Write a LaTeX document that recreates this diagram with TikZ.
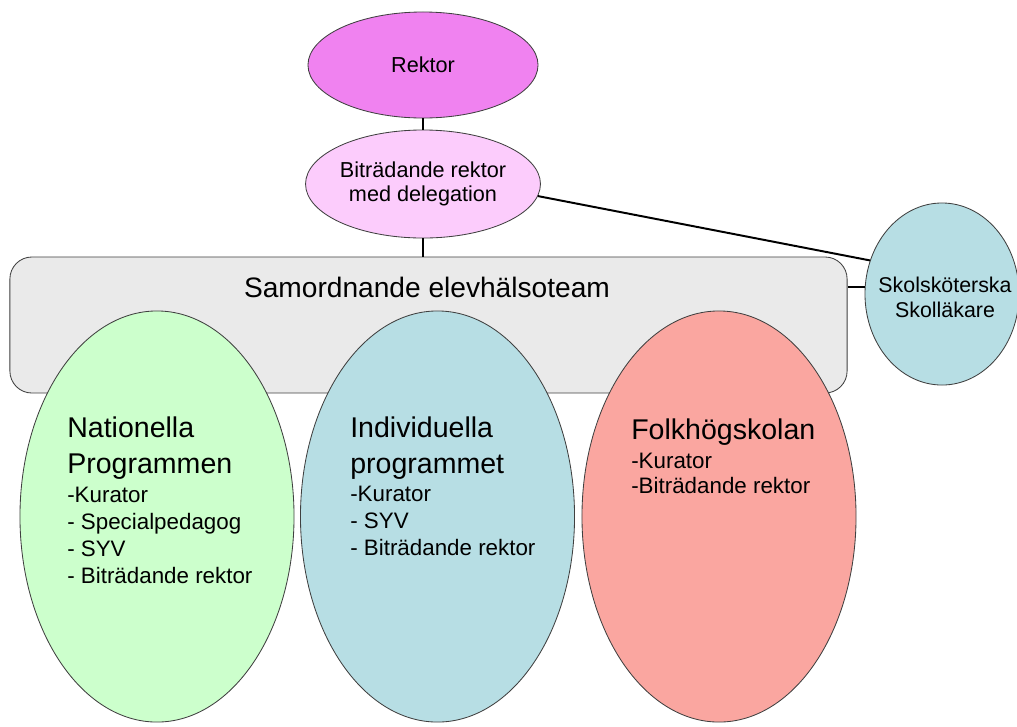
\documentclass[tikz,border=0pt]{standalone}
\usepackage{fontspec}
\setmainfont{Liberation Sans}
\usetikzlibrary{shapes.geometric}

\definecolor{rektorpink}{RGB}{240,130,240}
\definecolor{bitrpink}{RGB}{252,204,252}
\definecolor{teamgray}{RGB}{234,234,234}
\definecolor{natgreen}{RGB}{204,255,204}
\definecolor{indblue}{RGB}{183,222,228}
\definecolor{folkred}{RGB}{250,166,160}

\begin{document}
\begin{tikzpicture}[x=0.025cm,y=-0.025cm,
    oval/.style={ellipse,draw=black!75,line width=0.6pt,inner sep=0pt},
    bigoval/.style={oval,minimum width=6.85cm,minimum height=10.275cm},
    toptext/.style={align=center,font={\fontsize{15.4}{17}\selectfont}},
    title/.style={anchor=base west,align=left,inner sep=0pt,font={\fontsize{20.3}{25.5}\selectfont}},
    items/.style={anchor=base west,align=left,inner sep=0pt,font={\fontsize{15.9}{19}\selectfont}},
    link/.style={line width=1.4pt}]
  \useasboundingbox (0,0) rectangle (1017,726);
  % team box behind the three groups
  \node[draw=black!75,line width=0.6pt,fill=teamgray,rounded corners=0.55cm,
        minimum width=20.925cm,minimum height=3.4cm,inner sep=0pt] (sam) at (428.5,325) {};
  \node[anchor=base,inner sep=0pt,font={\fontsize{20}{24}\selectfont}] (samtxt) at (427,297) {Samordnande elevhälsoteam};
  % the three groups (base of a node = its last line)
  \node[bigoval,fill=natgreen] (nat) at (157,516.5) {};
  \node[bigoval,fill=indblue] (ind) at (437.5,516.5) {};
  \node[bigoval,fill=folkred] (folk) at (719,516.5) {};
  \node[title] (nattitle) at (67,473) {Nationella\\Programmen};
  \node[items] (natlist) at (67,583) {-Kurator\\- Specialpedagog\\- SYV\\- Biträdande rektor};
  \node[title] (indtitle) at (350,473) {Individuella\\programmet};
  \node[items] (indlist) at (350,555) {-Kurator\\- SYV\\- Biträdande rektor};
  \node[title] (folktitle) at (631,439) {Folkhögskolan};
  \node[items,font={\fontsize{15.9}{17.7}\selectfont}] (folklist) at (631,493) {-Kurator\\-Biträdande rektor};
  % top of the organisation
  \node[oval,toptext,fill=rektorpink,minimum width=5.75cm,minimum height=2.65cm] (rektor) at (423,65) {Rektor};
  \node[oval,toptext,fill=bitrpink,minimum width=5.75cm,minimum height=2.7cm] (bitr) at (423,184) {Biträdande rektor\\med delegation};
  \node[oval,fill=indblue,minimum width=3.85cm,minimum height=4.55cm] (skol) at (942,294) {};
  \node[align=center,inner sep=0pt,font={\fontsize{15.2}{17.7}\selectfont}] (skoltxt) at (945,297) {Skolsköterska\\Skolläkare};
  % connectors
  \draw[link] (rektor) -- (bitr);
  \draw[link] (bitr.south) -- (bitr.south |- sam.north);
  \draw[link] (bitr.-6) -- (skol.155);
  \draw[link] (skol.175) -- (skol.175 -| sam.east);
\end{tikzpicture}
\end{document}
